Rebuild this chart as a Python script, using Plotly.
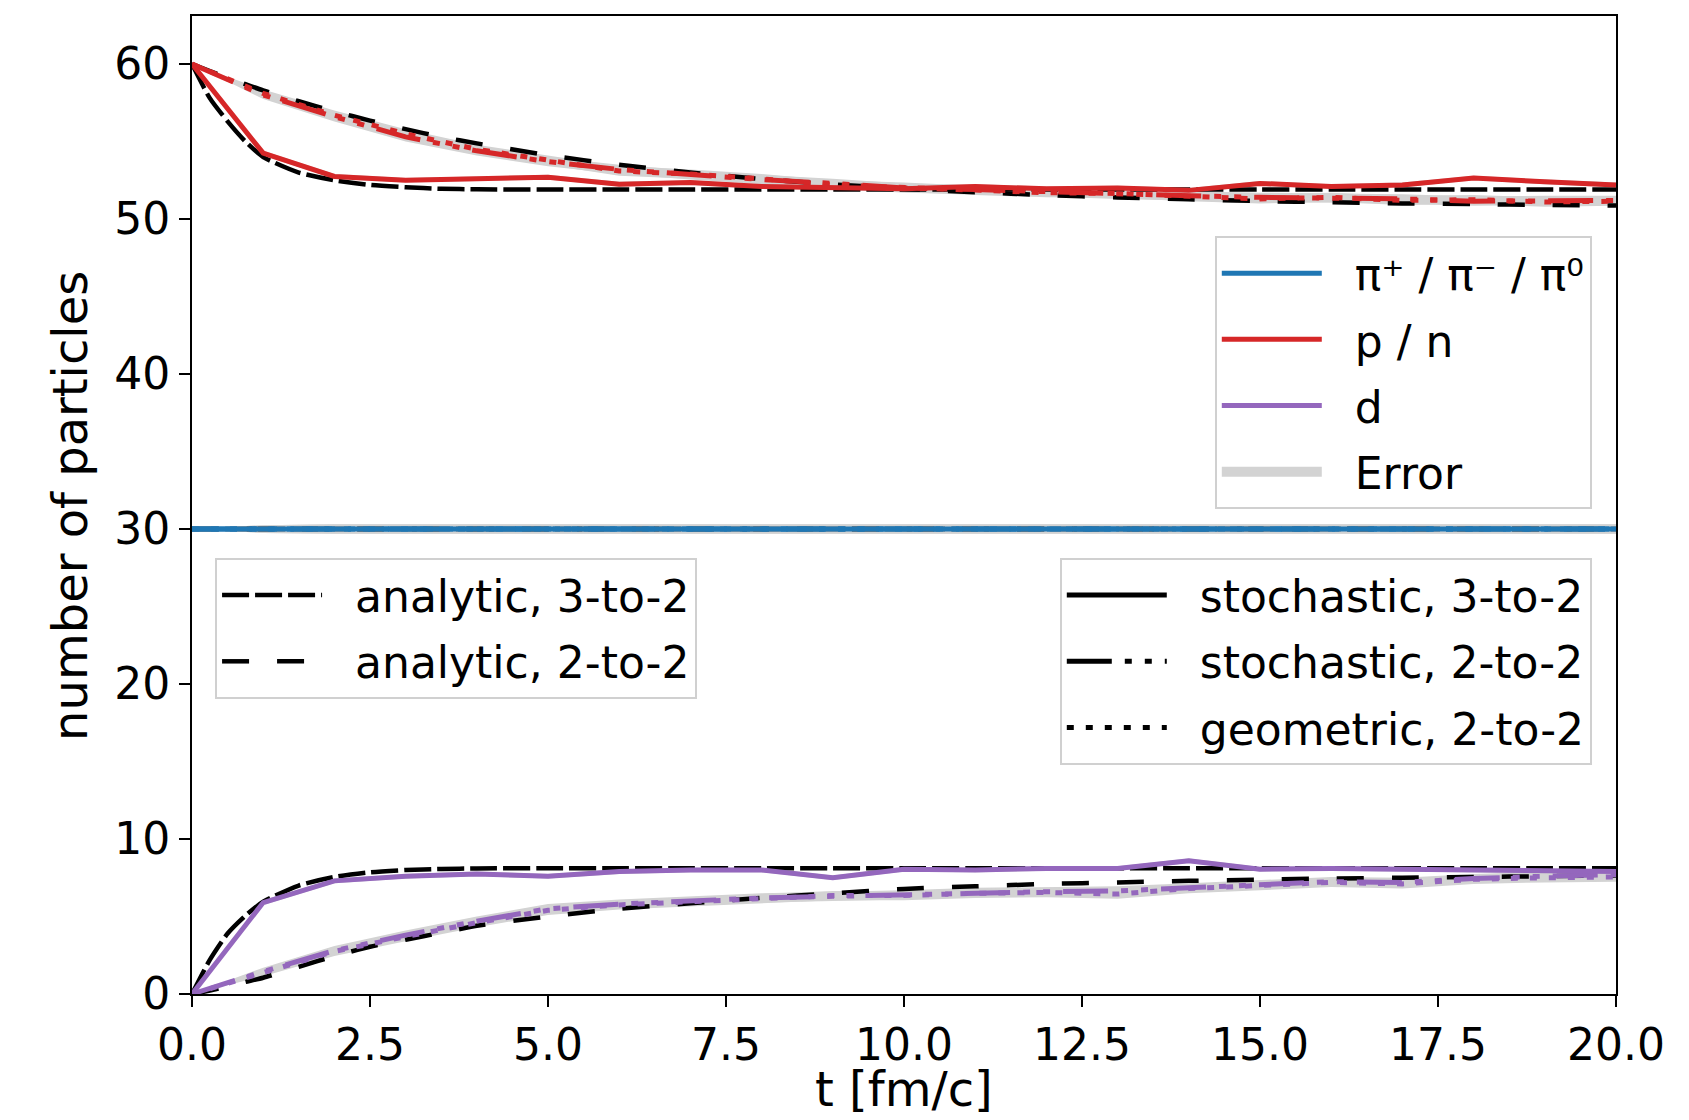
import plotly.graph_objects as go

# ---------------- data ----------------
t_analytic = [0, 0.25, 0.5, 0.75, 1, 1.5, 2, 2.5, 3, 3.5, 4, 5, 6, 7, 8, 9, 10,
              11, 12, 13, 14, 15, 16, 17, 18, 19, 20]
t_sim = [0, 1, 2, 3, 4, 5, 6, 7, 8, 9, 10, 11, 12, 13, 14, 15, 16, 17, 18, 19, 20]

# pions (constant)
pi_analytic = [30, 30, 30, 30, 30, 30, 30, 30, 30, 30, 30, 30, 30, 30, 30, 30, 30,
               30, 30, 30, 30, 30, 30, 30, 30, 30, 30]
pi_sim = [30, 30, 30, 30, 30, 30, 30, 30, 30, 30, 30, 30, 30, 30, 30, 30, 30, 30, 30, 30, 30]

# p / n
pn_ana_32 = [60, 57.8, 56.3, 55.0, 54.0, 53.0, 52.5, 52.2, 52.05, 51.95, 51.92, 51.9, 51.9,
             51.9, 51.9, 51.9, 51.9, 51.9, 51.9, 51.9, 51.9, 51.9, 51.9, 51.9, 51.9, 51.9, 51.9]
pn_ana_22 = [60, 59.55, 59.12, 58.7, 58.3, 57.6, 56.95, 56.35, 55.8, 55.3, 54.88, 54.12, 53.5,
             53.0, 52.58, 52.24, 51.96, 51.73, 51.55, 51.39, 51.27, 51.16, 51.08, 51.01,
             50.96, 50.91, 50.87]
pn_sto_32 = [60, 54.25, 52.75, 52.5, 52.6, 52.7, 52.25, 52.35, 52.1, 52.0, 51.95, 52.1,
             51.95, 52.0, 51.85, 52.3, 52.1, 52.2, 52.65, 52.4, 52.2]
pn_sto_22 = [60, 58.0, 56.6, 55.3, 54.4, 53.7, 53.2, 52.85, 52.55, 52.3, 52.0, 51.9, 51.75,
             51.6, 51.5, 51.4, 51.35, 51.3, 51.15, 51.2, 51.2]
pn_geo_22 = [60, 58.1, 56.7, 55.5, 54.5, 53.8, 53.1, 52.9, 52.6, 52.2, 52.05, 51.85, 51.7,
             51.65, 51.45, 51.3, 51.4, 51.2, 51.25, 51.1, 51.15]

# d
d_ana_32 = [0, 2.2, 3.9, 5.05, 5.95, 7.0, 7.55, 7.85, 8.0, 8.07, 8.1, 8.12, 8.12, 8.12, 8.12,
            8.12, 8.12, 8.12, 8.12, 8.12, 8.12, 8.12, 8.12, 8.12, 8.12, 8.12, 8.12]
d_ana_22 = [0, 0.22, 0.5, 0.78, 1.05, 1.75, 2.45, 3.05, 3.5, 3.95, 4.4, 5.0, 5.5, 5.85, 6.2,
            6.5, 6.78, 6.95, 7.1, 7.2, 7.3, 7.38, 7.45, 7.5, 7.55, 7.6, 7.65]
d_sto_32 = [0, 5.9, 7.3, 7.6, 7.75, 7.6, 7.9, 8.0, 8.0, 7.5, 8.05, 8.0, 8.1, 8.1, 8.6, 8.05,
            8.1, 8.05, 8.0, 7.95, 7.9]
d_sto_22 = [0, 1.45, 2.8, 3.8, 4.7, 5.5, 5.8, 6.0, 6.2, 6.3, 6.4, 6.55, 6.6, 6.65, 6.85, 7.05,
            7.25, 7.2, 7.45, 7.6, 7.7]
d_geo_22 = [0, 1.4, 2.75, 3.7, 4.6, 5.4, 5.75, 5.95, 6.15, 6.35, 6.35, 6.5, 6.55, 6.45, 6.8,
            7.0, 7.2, 7.1, 7.4, 7.5, 7.55]

# statistical errors (half widths) of the stochastic runs
err_32 = [0, 0.15, 0.15, 0.15, 0.15, 0.15, 0.15, 0.15, 0.15, 0.15, 0.15, 0.15, 0.15, 0.15,
          0.15, 0.15, 0.15, 0.15, 0.15, 0.15, 0.15]
err_22 = [0, 0.25, 0.3, 0.3, 0.3, 0.3, 0.3, 0.3, 0.3, 0.3, 0.3, 0.3, 0.3, 0.3, 0.3, 0.3,
          0.3, 0.3, 0.3, 0.3, 0.3]

x_ticks = [0, 2.5, 5, 7.5, 10, 12.5, 15, 17.5, 20]
x_tick_labels = ["0.0", "2.5", "5.0", "7.5", "10.0", "12.5", "15.0", "17.5", "20.0"]
y_ticks = [0, 10, 20, 30, 40, 50, 60]
x_title = "t [fm/c]"
y_title = "number of particles"

species_names = ["π⁺ / π⁻ / π⁰", "p / n", "d"]
method_names = ["analytic, 3-to-2", "analytic, 2-to-2",
                "stochastic, 3-to-2", "stochastic, 2-to-2", "geometric, 2-to-2"]

# ---------------- styles ----------------
BLUE, RED, PURPLE, GRAY = "#1f77b4", "#d62728", "#9467bd", "#d3d3d3"
DASH_A32 = "27px,6px"
DASH_A22 = "27px,28px"
DASH_S22 = "45px,13px,7px,13px,7px,13px"
DASH_G22 = "7px,12px"
FONT = "DejaVu Sans"
FS = 44
FS_TITLE = 48
LW_C = 5
LW_K = 4.5
PAD = "\u00a0\u00a0"   # gap between legend sample and label

fig = go.Figure()

species = [
    (pi_analytic, pi_analytic, pi_sim, pi_sim, pi_sim, BLUE),
    (pn_ana_32, pn_ana_22, pn_sto_32, pn_sto_22, pn_geo_22, RED),
    (d_ana_32, d_ana_22, d_sto_32, d_sto_22, d_geo_22, PURPLE),
]


def band(values, errs):
    upper = [v + e for v, e in zip(values, errs)]
    lower = [v - e for v, e in zip(values, errs)]
    return t_sim + t_sim[::-1], upper + lower[::-1]


# error bands (underneath)
for (_, _, s32, s22, g22, col) in species:
    for vals, errs in ((s32, err_32), (s22, err_22), (g22, err_22)):
        bx, by = band(vals, errs)
        fig.add_trace(go.Scatter(
            x=bx, y=by, mode="lines", fill="toself", fillcolor=GRAY,
            line=dict(width=0, color=GRAY), hoverinfo="skip",
            name="Error", legendgroup="error", showlegend=False))

# analytic curves (black)
for i, (a32, a22, _, _, _, col) in enumerate(species):
    fig.add_trace(go.Scatter(
        x=t_analytic, y=a32, mode="lines",
        line=dict(color="black", width=LW_K, dash=DASH_A32, shape="spline", smoothing=0.6),
        name=PAD + method_names[0], legend="legend2", legendgroup="a32",
        showlegend=(i == 0)))
    fig.add_trace(go.Scatter(
        x=t_analytic, y=a22, mode="lines",
        line=dict(color="black", width=LW_K, dash=DASH_A22, shape="spline", smoothing=0.6),
        name=PAD + method_names[1], legend="legend2", legendgroup="a22",
        showlegend=(i == 0)))

# simulation curves (coloured)
for i, (_, _, s32, s22, g22, col) in enumerate(species):
    fig.add_trace(go.Scatter(
        x=t_sim, y=s22, mode="lines", line=dict(color=col, width=LW_C, dash=DASH_S22),
        legendgroup="sp%d" % i, showlegend=False))
    fig.add_trace(go.Scatter(
        x=t_sim, y=g22, mode="lines", line=dict(color=col, width=LW_C, dash=DASH_G22),
        legendgroup="sp%d" % i, showlegend=False))
    fig.add_trace(go.Scatter(
        x=t_sim, y=s32, mode="lines", line=dict(color=col, width=LW_C),
        name=PAD + species_names[i], legend="legend", legendgroup="sp%d" % i,
        showlegend=True, legendrank=i + 1))

# legend entry for the error bands
fig.add_trace(go.Scatter(
    x=[None], y=[None], mode="lines", line=dict(color=GRAY, width=20),
    name=PAD + "Error", legend="legend", legendgroup="error", showlegend=True,
    legendrank=10))

# legend-only entries for the simulation line styles
for k, (name, dash) in enumerate(zip(method_names[2:], ["solid", DASH_S22, DASH_G22])):
    fig.add_trace(go.Scatter(
        x=[None], y=[None], mode="lines", line=dict(color="black", width=LW_C, dash=dash),
        name=PAD + name, legend="legend3", legendgroup="m%d" % k, showlegend=True))

legend_common = dict(
    font=dict(family=FONT, size=FS, color="black"),
    bgcolor="rgba(255,255,255,0.8)", bordercolor="#d0d0d0", borderwidth=2,
    itemwidth=100, traceorder="grouped", tracegroupgap=6, xref="paper", yref="paper",
)

title_font = dict(family=FONT, size=FS_TITLE, color="black")

fig.update_layout(
    width=1689, height=1120,
    margin=dict(l=192, r=73, t=16, b=126),
    paper_bgcolor="white", plot_bgcolor="white",
    font=dict(family=FONT, size=FS, color="black"),
    xaxis=dict(
        range=[0, 20], tickvals=x_ticks, ticktext=x_tick_labels,
        showgrid=False, zeroline=False, showline=True, linecolor="black", linewidth=2,
        mirror=True, ticks="outside", ticklen=11, tickwidth=2, tickcolor="black",
        tickfont=dict(family=FONT, size=FS, color="black"), automargin=False,
    ),
    yaxis=dict(
        range=[0, 63.1], tickvals=y_ticks,
        showgrid=False, zeroline=False, showline=True, linecolor="black", linewidth=2,
        mirror=True, ticks="outside", ticklen=11, tickwidth=2, tickcolor="black",
        tickfont=dict(family=FONT, size=FS, color="black"), automargin=False,
    ),
    annotations=[
        dict(text=x_title, xref="paper", yref="paper", x=0.5, y=-0.1276,
             xanchor="center", yanchor="bottom", showarrow=False, font=title_font),
        dict(text=y_title, xref="paper", yref="paper", x=-0.0857, y=0.499,
             xanchor="center", yanchor="middle", textangle=-90, showarrow=False,
             font=title_font),
    ],
    legend=dict(x=0.983, y=0.775, xanchor="right", yanchor="top", **legend_common),
    legend2=dict(x=0.0162, y=0.4458, xanchor="left", yanchor="top", **legend_common),
    legend3=dict(x=0.983, y=0.4458, xanchor="right", yanchor="top", **legend_common),
    showlegend=True,
)

fig.write_html("out.html")
